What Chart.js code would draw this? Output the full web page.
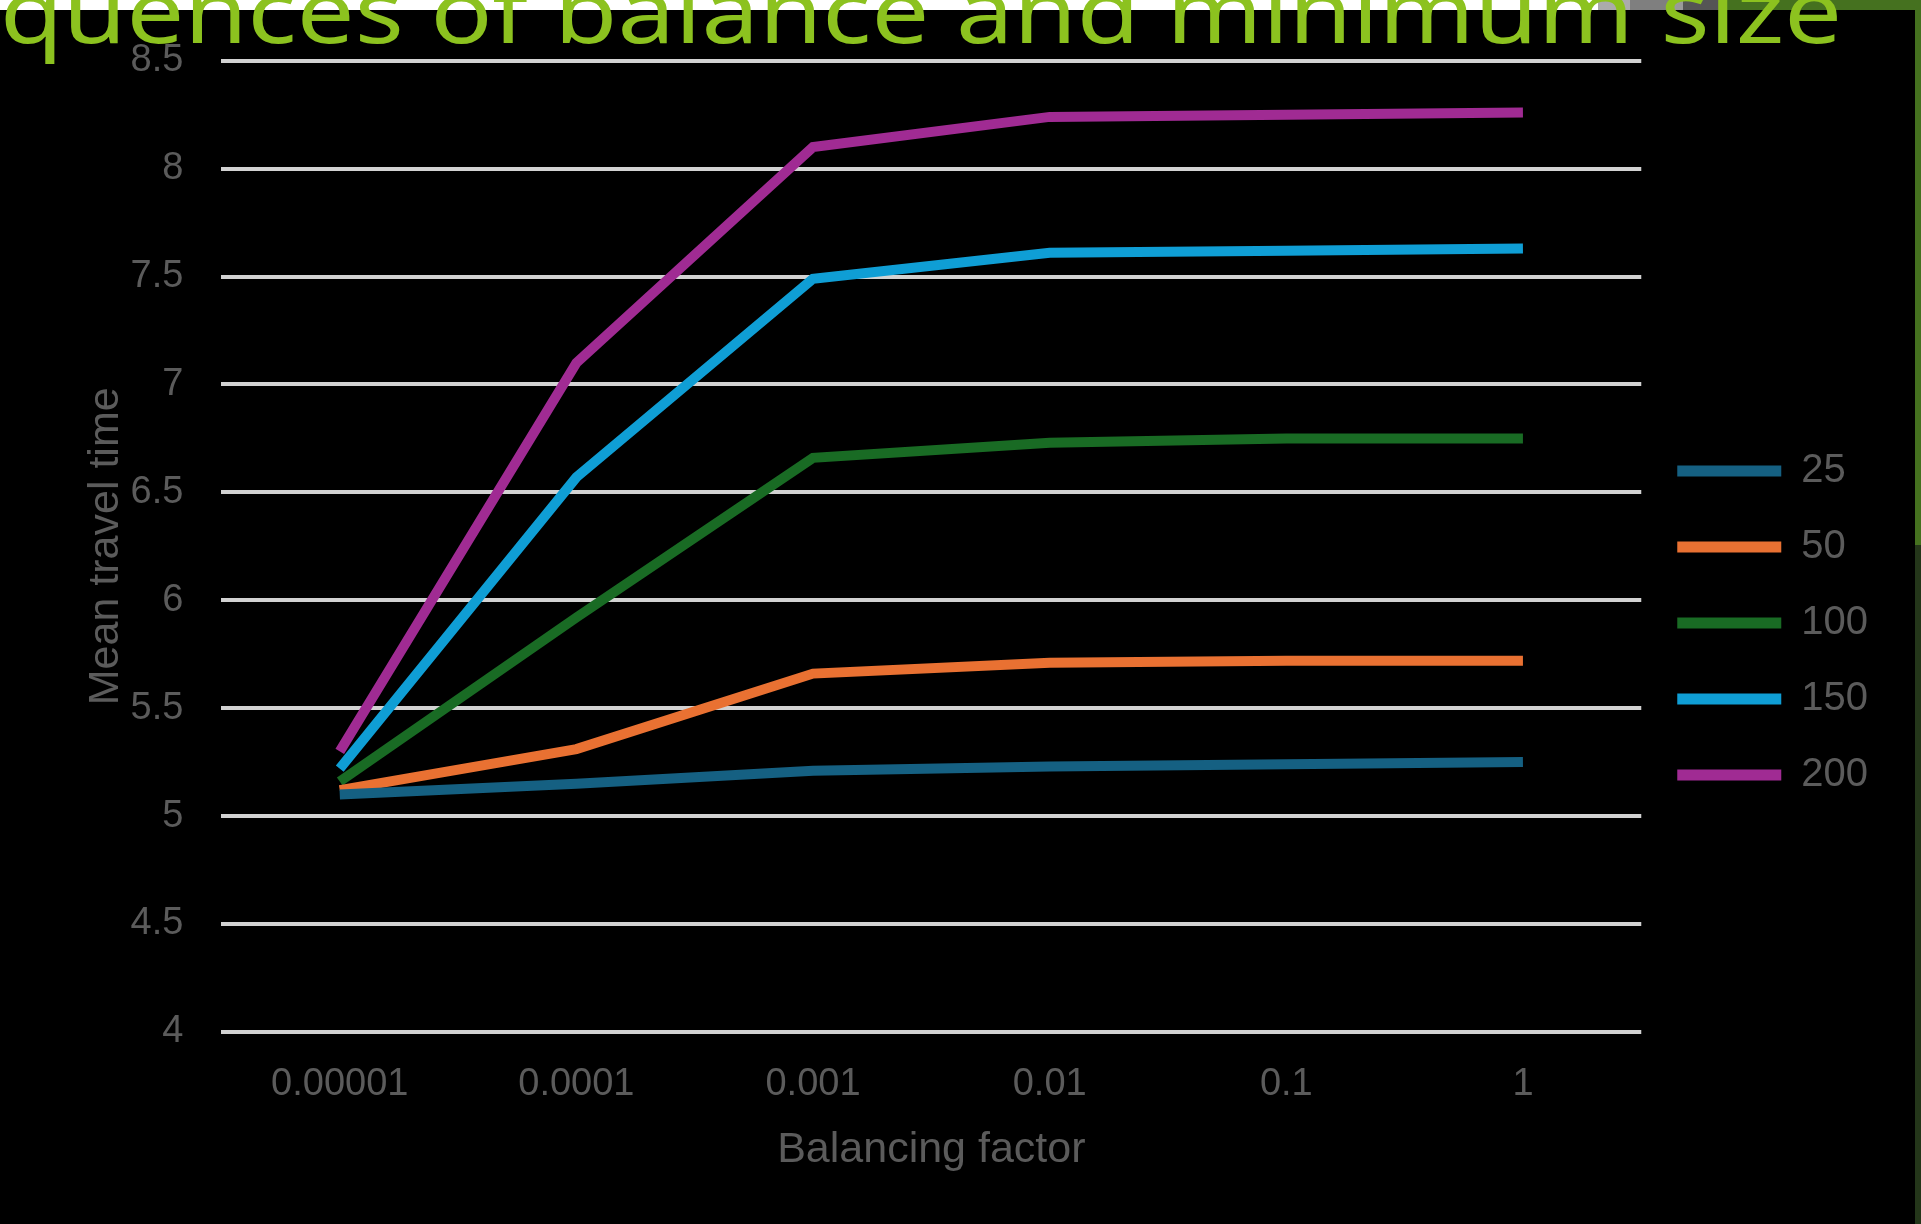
<!DOCTYPE html>
<html>
<head>
<meta charset="utf-8">
<script src="https://cdn.jsdelivr.net/npm/chart.js@4"></script>
<style>
  html, body { margin: 0; padding: 0; background: #000; }
  body { width: 1921px; height: 1224px; overflow: hidden; position: relative; }
  #chart { position: absolute; left: 0; top: 0; }
  .bar { position: absolute; }
  #title { position: absolute; left: 0; top: 0; overflow: visible; }
</style>
</head>
<body>
<canvas id="chart" width="1921" height="1224"></canvas>

<!-- slide frame bits around the pasted chart -->
<div class="bar" style="left:0;top:0;width:1598px;height:10px;background:#fff"></div>
<div class="bar" style="left:1598px;top:0;width:32px;height:10px;background:#ababab"></div>
<div class="bar" style="left:1630px;top:0;width:43px;height:10px;background:#7f7f7f"></div>
<div class="bar" style="left:1673px;top:0;width:10px;height:10px;background:#9a9a9a"></div>
<div class="bar" style="left:1683px;top:0;width:44px;height:10px;background:#555"></div>
<div class="bar" style="left:1727px;top:0;width:194px;height:10px;background:#45711f"></div>
<div class="bar" style="left:1915px;top:0;width:6px;height:545px;background:#45711f"></div>
<div class="bar" style="left:1915px;top:545px;width:6px;height:679px;background:#24361a"></div>

<svg id="title" width="1921" height="90">
  <text x="0" y="43" font-family="Noto Sans" font-size="88" fill="#8cc21f"
        textLength="1842" lengthAdjust="spacingAndGlyphs">quences of balance and minimum size</text>
</svg>

<script>
/* ── Data ────────────────────────────────────────────────────── */
const factors   = ['0.00001', '0.0001', '0.001', '0.01', '0.1', '1'];
const sizeNames = ['25', '50', '100', '150', '200'];

const size25  = [5.10, 5.15, 5.21, 5.23, 5.24, 5.25];
const size50  = [5.12, 5.31, 5.66, 5.71, 5.72, 5.72];
const size100 = [5.16, 5.92, 6.66, 6.73, 6.75, 6.75];
const size150 = [5.22, 6.57, 7.49, 7.61, 7.62, 7.63];
const size200 = [5.30, 7.10, 8.10, 8.24, 8.25, 8.26];

const seriesColors = ['#156082', '#e97132', '#196b24', '#0f9ed5', '#a02b93'];

const yMin  = 4;
const yMax  = 8.5;
const yStep = 0.5;

/* ── Chart ───────────────────────────────────────────────────── */
const textGrey = '#5b5b5b';
Chart.defaults.font.family = "'Liberation Sans', Arial, sans-serif";
Chart.defaults.color = textGrey;

const allSeries = [size25, size50, size100, size150, size200];

const datasets = allSeries.map((values, i) => ({
  label: sizeNames[i],
  data: values,
  borderColor: seriesColors[i],
  backgroundColor: seriesColors[i],
  borderWidth: 10,
  borderCapStyle: 'butt',
  pointRadius: 0,
  tension: 0,
  fill: false,
}));

// note: chart.js v4 reserves ticks.padding twice in an axis' size,
// the negative title paddings pull the titles back in
const ctx = document.getElementById('chart').getContext('2d');
new Chart(ctx, {
  type: 'line',
  data: { labels: factors, datasets },
  options: {
    responsive: false,
    devicePixelRatio: 1,
    animation: false,
    layout: { padding: { left: 80, top: 60, right: 43, bottom: 38 } },
    plugins: {
      tooltip: { enabled: false },
      legend: {
        position: 'right',
        align: 'center',
        labels: {
          color: textGrey,
          font: { size: 40 },
          boxWidth: 104,
          boxHeight: 11,
          padding: 36,
          generateLabels: chart => {
            const items = Chart.defaults.plugins.legend.labels.generateLabels(chart);
            items.forEach(it => { it.lineWidth = 0; });
            return items;
          },
        },
      },
    },
    scales: {
      x: {
        offset: true,
        grid: { display: false, drawTicks: false },
        border: { display: false },
        ticks: { padding: 30, font: { size: 38 }, color: textGrey, maxRotation: 0 },
        title: {
          display: true,
          text: 'Balancing factor',
          color: textGrey,
          font: { size: 43, lineHeight: 1.2 },
          padding: { top: -13, bottom: 10 },
        },
      },
      y: {
        min: yMin,
        max: yMax,
        grid: { color: '#d2d2d2', lineWidth: 4, drawTicks: false },
        border: { display: false },
        ticks: {
          stepSize: yStep,
          padding: 38,
          font: { size: 38 },
          color: textGrey,
          callback: v => String(v),
        },
        title: {
          display: true,
          text: 'Mean travel time',
          color: textGrey,
          font: { size: 43, lineHeight: 1.2 },
          padding: { top: 0, bottom: -39 },
        },
      },
    },
  },
});
</script>
</body>
</html>
